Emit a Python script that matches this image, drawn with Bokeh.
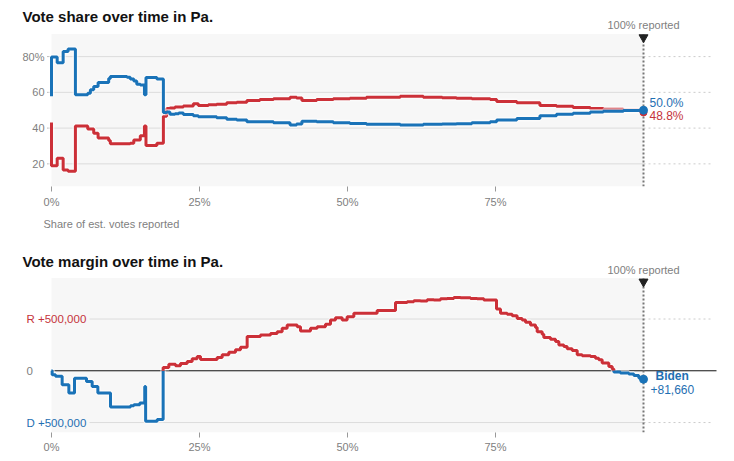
import numpy as np
from bokeh.plotting import figure
from bokeh.models import Label, FixedTicker, Range1d
from bokeh.layouts import column
from bokeh.embed import file_html
from bokeh.resources import INLINE
from bokeh.core.properties import value

# ---------------- data ----------------
share_pct = [0, 0, 0.96, 1.97, 2.8, 4.04, 6.12, 6.57, 7.13, 7.87, 9.66, 9.94, 12.75, 13.3, 13.9, 14.4, 15.0, 15.7, 15.96, 17.8, 18.9,
             19.45, 20.0, 20.86, 21.5, 22.27, 23.96, 24.8, 26.5, 27.9, 29.6, 31.3, 33.0, 35.2, 37.5, 40.3, 41.4, 42.3, 44.8,
             47.6, 50.4, 53.2, 56.0, 58.9,
             62.8, 66.0, 68.4, 71.0, 74.1, 75.2, 78.6, 82.5, 85.3, 88.1, 91.0, 93.2, 96.6, 100]
dem_share = [57.8, 79.8, 76.5, 82.9, 84.2, 58.6, 59.5, 61.5, 63.3, 65.5, 67.7, 68.8, 68.4, 67.4, 66.3, 64.6, 64.1, 58.6, 68.3, 67.4, 48.7,
             49.0, 47.8, 48.0, 48.5, 47.6, 46.9, 46.3, 46.3, 45.8, 45.0, 44.5, 43.6, 43.6, 43.0, 41.7, 42.3, 43.9, 43.6,
             43.0, 42.6, 42.1, 42.1, 41.7,
             42.1, 42.3, 42.4, 43.0, 43.6, 44.5, 45.4, 46.9, 47.8, 48.3, 49.0, 49.4, 49.8, 50.0]
rep_share = [43.2, 18.9, 23.1, 16.6, 15.9, 41.2, 39.5, 39.5, 37.1, 34.4, 33.0, 31.3, 31.3, 31.6, 33.4, 33.4, 35.7, 41.2, 30.3, 31.6, 46.6,
             50.9, 51.2, 51.8, 51.8, 52.3, 53.6, 52.7, 53.1, 53.4, 54.2, 54.5, 55.5, 56.0, 56.4, 57.3, 56.9, 55.5, 56.0,
             56.4, 56.7, 57.3, 57.3, 57.8,
             57.3, 57.0, 56.7, 56.4, 56.0, 54.9, 54.2, 52.7, 52.2, 51.5, 50.9, 50.5, 50.0, 48.8]

margin_pct = [0, 0.11, 0.68, 1.8, 2.93, 3.89, 5.91, 6.87, 7.83, 9.97, 13.35, 13.91, 14.92, 15.75, 15.9, 17.85, 18.86,
              19.82, 20.95, 21.79, 22.92, 23.76, 24.61, 25.17, 27.98, 28.83, 29.95, 31.08, 31.93, 33.05, 35.3, 37.0,
              38.12, 38.96, 39.81, 41.5, 42.06, 43.75, 44.88, 46.28, 47.13, 47.97, 49.1, 49.94, 51.07, 55.01, 58.11,
              60.08, 61.2, 62.33, 63.46, 64.58, 65.71, 66.84, 67.96, 69.09, 70.78, 71.9, 73.03, 75.17, 75.84, 76.97,
              77.82, 78.66, 79.5, 80.07, 80.91, 81.76, 82.04, 82.88, 83.16, 84.29, 85.14, 85.7, 86.54, 87.1, 87.95,
              88.8, 89.64, 91.05, 91.89, 92.45, 93.02, 94.14, 94.71, 94.99, 96.1, 97.52, 98.37, 99.21, 100]
# Republican lead (positive) / Democratic lead (negative), in votes
margin_votes = [0, -38000, -54000, -135000, -215000, -71000, -103000, -151000, -215000, -349000, -337000, -327000,
                -311000, -151000, -487000, -471000, 32000, 64000, 48000, 70000, 90000, 115000, 138000, 108000, 128000,
                154000, 180000, 202000, 228000, 330000, 346000, 359000, 378000, 410000, 442000, 426000, 385000, 410000,
                426000, 449000, 490000, 513000, 490000, 522000, 555000, 583000, 660000, 667000, 676000, 673000, 686000,
                683000, 695000, 699000, 708000, 705000, 699000, 695000, 683000, 596000, 555000, 545000, 532000, 506000,
                490000, 468000, 442000, 417000, 378000, 353000, 321000, 305000, 282000, 250000, 234000, 212000, 196000,
                154000, 144000, 138000, 122000, 106000, 74000, 42000, 16000, -13000, -22000, -32000, -45000, -70000,
                -81660]
leader_name = "Biden"

x_ticks = [0, 25, 50, 75]
x_tick_labels = ["0%", "25%", "50%", "75%"]
share_ticks = [80, 60, 40, 20]
share_tick_labels = ["80%", "60", "40", "20"]
margin_ticks = [500000, 0, -500000]
margin_tick_labels = ["R +500,000", "0", "D +500,000"]
REPORTED = 100

# ---------------- style / layout ----------------
BLUE = "#1a73b8"
RED = "#cc3038"
BLUE_TXT = "#1f6fb2"
RED_TXT = "#c5333a"
GREY_BG = "#f7f7f7"
GRID = "#dcdcdc"
TXT = "#808080"
FONT = "Liberation Sans"

W = 734
PPX = 5.92            # pixels per percentage point
X0 = 51               # pixel position of 0 %
X_RANGE = (-X0 / PPX, (W - X0) / PPX)
DOT_END = (713 - X0) / PPX
ZERO_END = (716 - X0) / PPX
GRID2_START = (89 - X0) / PPX

# top figure: page rows 0..189 are frame, axis below
F1_H, F1_BOTTOM = 210, 189
S_PPU = 109 / 60.0                       # px per share point


def v1(py):
    return 80 - (py - 57) / S_PPU


YR1 = (v1(F1_BOTTOM), v1(0))
BAND1_TOP = v1(34)

# bottom figure: page rows 210..433 are frame
F2_TOP, F2_BOTTOM, F2_H = 210, 433, 245
M_PPU = 52 / 500000.0


def v2(py):
    return (371 - py) / M_PPU


YR2 = (v2(F2_BOTTOM), v2(F2_TOP))
BAND2_TOP = v2(277.7)


def step_xy(xs, ys):
    px, py = [xs[0]], [ys[0]]
    for i in range(1, len(xs)):
        px += [xs[i], xs[i]]
        py += [ys[i - 1], ys[i]]
    return px, py


def split_by_sign(px, py):
    pieces = []
    side = py[0] > 0
    cx, cy = [px[0]], [py[0]]
    for i in range(1, len(px)):
        x0, y0, x1, y1 = px[i - 1], py[i - 1], px[i], py[i]
        s = y1 > 0
        if s != side and y1 != 0:
            xc = x0 + (x1 - x0) * (0 - y0) / (y1 - y0) if y1 != y0 else x0
            cx.append(xc); cy.append(0)
            pieces.append((cx, cy, side))
            cx, cy = [xc, x1], [0, y1]
            side = s
        else:
            cx.append(x1); cy.append(y1)
    pieces.append((cx, cy, side))
    return pieces


def base_fig(h, bottom, yr, band_top, standoff):
    p = figure(width=W, height=h, x_range=Range1d(*X_RANGE), y_range=Range1d(*yr),
               output_backend="svg", toolbar_location=None, y_axis_location=None,
               min_border_left=0, min_border_right=0, min_border_top=0, min_border_bottom=bottom)
    p.outline_line_color = None
    p.grid.visible = False
    p.background_fill_color = "white"
    p.border_fill_color = "white"
    ax = p.xaxis[0]
    ax.ticker = FixedTicker(ticks=x_ticks)
    ax.major_label_overrides = {t: l for t, l in zip(x_ticks, x_tick_labels)}
    ax.axis_line_color = None
    ax.major_tick_line_color = "#999999"
    ax.major_tick_out = 5
    ax.major_tick_in = 0
    ax.minor_tick_line_color = None
    ax.major_label_text_font = FONT
    ax.major_label_text_font_size = "11px"
    ax.major_label_text_color = TXT
    ax.major_label_standoff = standoff
    p.quad(left=[0], right=[REPORTED], bottom=[yr[0]], top=[band_top], fill_color=GREY_BG, line_color=None)
    return p


def reported_marker(p, y0, y_band_top, y_tri, label_y):
    p.segment(x0=[REPORTED], x1=[REPORTED], y0=[y0], y1=[y_band_top], line_color="#777777",
              line_width=2, line_dash="2 2")
    p.scatter(x=[REPORTED], y=[y_tri], marker="inverted_triangle", size=9,
              fill_color="#222222", line_color="#222222")
    p.add_layout(Label(x=REPORTED, y=label_y, x_units="data", y_units="screen", text="100% reported",
                       text_align="center", text_baseline="alphabetic", text_font=FONT,
                       text_font_size="11px", text_color=TXT))


def title(p, text, y):
    p.add_layout(Label(x=22, y=y, x_units="screen", y_units="screen", text=text,
                       text_align="left", text_baseline="alphabetic", text_font=FONT,
                       text_font_size="15px", text_font_style="bold", text_color="#121212"))


# ================= top chart: vote share =================
p1 = base_fig(F1_H, F1_H - F1_BOTTOM, YR1, BAND1_TOP, 4)
n = len(share_ticks)
p1.segment(x0=[0] * n, x1=[REPORTED] * n, y0=share_ticks, y1=share_ticks, line_color=GRID, line_width=1)
p1.segment(x0=[REPORTED] * n, x1=[DOT_END] * n, y0=share_ticks, y1=share_ticks, line_color="#cccccc",
           line_width=1, line_dash="2 3")
p1.segment(x0=[-4.5 / PPX] * n, x1=[-1.5 / PPX] * n, y0=share_ticks, y1=share_ticks, line_color="#bbbbbb",
           line_width=1)
p1.text(x=[0] * n, y=share_ticks, text=share_tick_labels, x_offset=-7, text_align="right",
        text_baseline="middle", text_font=value(FONT), text_font_size="11px", text_color=TXT)

for ys, col in ((rep_share, RED), (dem_share, BLUE)):
    sx, sy = step_xy(share_pct, ys)
    p1.line(sx, sy, line_color="white", line_width=6, line_alpha=0.55)
    p1.line(sx, sy, line_color=col, line_width=3)

reported_marker(p1, YR1[0], BAND1_TOP, v1(37.5), F1_BOTTOM - 27)
p1.scatter(x=[share_pct[-1]], y=[rep_share[-1]], size=7, fill_color=RED, line_color=RED)
p1.scatter(x=[share_pct[-1]], y=[dem_share[-1]], size=8, fill_color=BLUE, line_color=BLUE)
p1.add_layout(Label(x=REPORTED, y=F1_BOTTOM - 105, x_units="data", y_units="screen", x_offset=6,
                    text=f"{dem_share[-1]:.1f}%", text_baseline="middle", text_font=FONT,
                    text_font_size="12px", text_color=BLUE_TXT))
p1.add_layout(Label(x=REPORTED, y=F1_BOTTOM - 118.3, x_units="data", y_units="screen", x_offset=6,
                    text=f"{rep_share[-1]:.1f}%", text_baseline="middle", text_font=FONT,
                    text_font_size="12px", text_color=RED_TXT))
title(p1, "Vote share over time in Pa.", F1_BOTTOM - 18.5)

# ================= bottom chart: vote margin =================
p2 = base_fig(F2_H, F2_H - (F2_BOTTOM - F2_TOP), YR2, BAND2_TOP, 3)
p2.add_layout(Label(x=43, y=F2_BOTTOM - 224, x_units="screen", y_units="screen",
                    text="Share of est. votes reported", text_align="left", text_baseline="alphabetic",
                    text_font=FONT, text_font_size="11px", text_color=TXT))
nz = [t for t in margin_ticks if t != 0]
m = len(nz)
p2.segment(x0=[GRID2_START] * m, x1=[REPORTED] * m, y0=nz, y1=nz, line_color=GRID, line_width=1)
p2.segment(x0=[REPORTED] * m, x1=[DOT_END] * m, y0=nz, y1=nz, line_color="#cccccc", line_width=1,
           line_dash="2 3")
p2.segment(x0=[0], x1=[ZERO_END], y0=[0], y1=[0], line_color="#111111", line_width=1)
lab_colors = [RED_TXT if t > 0 else (BLUE_TXT if t < 0 else TXT) for t in margin_ticks]
p2.text(x=[0] * len(margin_ticks), y=margin_ticks, text=margin_tick_labels, x_offset=-25, text_align="left",
        text_baseline="middle", text_font=value(FONT), text_font_size="11.5px", text_color=lab_colors)

mx, my = step_xy(margin_pct, margin_votes)
pieces = split_by_sign(mx, my)
p2.multi_line([pc[0] for pc in pieces], [pc[1] for pc in pieces], line_color="white", line_width=6,
              line_alpha=0.55)
p2.multi_line([pc[0] for pc in pieces], [pc[1] for pc in pieces],
              line_color=[RED if pc[2] else BLUE for pc in pieces], line_width=3)

reported_marker(p2, YR2[0], BAND2_TOP, v2(281.5), F2_BOTTOM - 270.5)
end_col = RED if margin_votes[-1] > 0 else BLUE
p2.scatter(x=[margin_pct[-1]], y=[margin_votes[-1]], size=8, fill_color=end_col, line_color=end_col)
p2.add_layout(Label(x=REPORTED, y=F2_BOTTOM - 376, x_units="data", y_units="screen", x_offset=12,
                    text=leader_name, text_baseline="middle", text_font=FONT, text_font_style="bold",
                    text_font_size="12px", text_color=BLUE_TXT))
p2.add_layout(Label(x=REPORTED, y=F2_BOTTOM - 390, x_units="data", y_units="screen", x_offset=7,
                    text=f"+{abs(margin_votes[-1]):,}", text_baseline="middle", text_font=FONT,
                    text_font_size="12px", text_color=BLUE_TXT))
title(p2, "Vote margin over time in Pa.", F2_BOTTOM - 262)

layout = column(p1, p2, spacing=0)
open("out.html", "w").write(file_html(layout, INLINE))
